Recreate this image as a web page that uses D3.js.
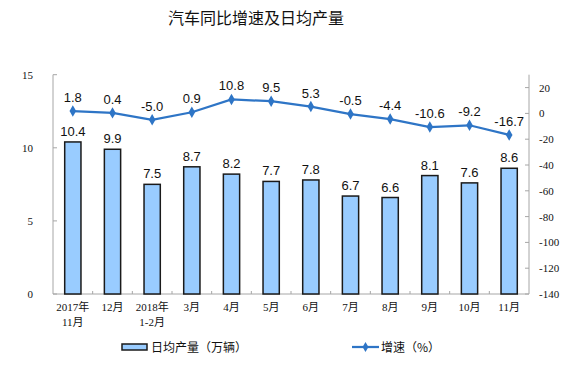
<!DOCTYPE html>
<html><head><meta charset="utf-8">
<script src="https://cdn.jsdelivr.net/npm/d3@7/dist/d3.min.js"></script>
<style>body{margin:0;background:#fff}</style>
</head><body>
<svg id="c" width="575" height="369"></svg>
<script>
const categories = [["2017年","11月"],["12月"],["2018年","1-2月"],["3月"],["4月"],["5月"],["6月"],["7月"],["8月"],["9月"],["10月"],["11月"]];
const output = [10.4, 9.9, 7.5, 8.7, 8.2, 7.7, 7.8, 6.7, 6.6, 8.1, 7.6, 8.6];
const growth = [1.8, 0.4, -5.0, 0.9, 10.8, 9.5, 5.3, -0.5, -4.4, -10.6, -9.2, -16.7];
const leftTicks = [0, 5, 10, 15];
const rightTicks = [20, 0, -20, -40, -60, -80, -100, -120, -140];

const svg = d3.select("#c");
const L = 53, R = 529, T = 74.7, B = 294;
const x = d3.scaleBand().domain(d3.range(categories.length)).range([L, R]).paddingInner(0.59).paddingOuter(0.295);
const xb = d3.scaleBand().domain(d3.range(categories.length)).range([L, R]);
const yL = d3.scaleLinear().domain([0, 15]).range([B, T]);
const yR = d3.scaleLinear().domain([-140, 30]).range([B, T]);
const serif = "'Liberation Serif','Times New Roman',serif";
const sans = "'Liberation Sans',Arial,sans-serif";
const cjk = "'Liberation Serif','Noto Sans CJK SC',serif";

svg.append("text").attr("x", 256).attr("y", 24).attr("text-anchor", "middle")
  .attr("font-family", "'Noto Sans CJK SC',sans-serif").attr("font-size", 16).attr("fill", "#111").text("汽车同比增速及日均产量");

// axes lines
const axCol = "#a6a6a6";
svg.append("line").attr("x1", L).attr("x2", L).attr("y1", T).attr("y2", B).attr("stroke", axCol);
svg.append("line").attr("x1", R).attr("x2", R).attr("y1", T).attr("y2", B).attr("stroke", axCol);
svg.append("line").attr("x1", L).attr("x2", R).attr("y1", B).attr("y2", B).attr("stroke", axCol);

// left ticks
leftTicks.forEach(t => {
  svg.append("line").attr("x1", L).attr("x2", L + 4).attr("y1", yL(t)).attr("y2", yL(t)).attr("stroke", axCol);
  svg.append("text").attr("x", L - 20).attr("y", yL(t) + 4).attr("text-anchor", "end")
    .attr("font-family", serif).attr("font-size", 11).attr("fill", "#111").text(t);
});
rightTicks.forEach(t => {
  svg.append("line").attr("x1", R - 4).attr("x2", R).attr("y1", yR(t)).attr("y2", yR(t)).attr("stroke", axCol);
  svg.append("text").attr("x", R + 10).attr("y", yR(t) + 4).attr("text-anchor", "start")
    .attr("font-family", serif).attr("font-size", 11).attr("fill", "#111").text(t);
});
// band boundary ticks
d3.range(1, categories.length).forEach(i => {
  svg.append("line").attr("x1", xb(i)).attr("x2", xb(i)).attr("y1", B - 3).attr("y2", B).attr("stroke", axCol);
});

// bars
svg.selectAll("rect.bar").data(output).enter().append("rect")
  .attr("x", (d, i) => x(i)).attr("width", x.bandwidth())
  .attr("y", d => yL(d)).attr("height", d => B - yL(d))
  .attr("fill", "#99ccff").attr("stroke", "#1a1a1a").attr("stroke-width", 1.5);
svg.selectAll("text.bl").data(output).enter().append("text")
  .attr("x", (d, i) => x(i) + x.bandwidth() / 2).attr("y", d => yL(d) - 6)
  .attr("text-anchor", "middle").attr("font-family", sans).attr("font-size", 13).attr("fill", "#111")
  .text(d => d.toFixed(1));

// line
const cx = i => xb(i) + xb.bandwidth() / 2;
const blue = "#2e75c6";
svg.append("path").datum(growth)
  .attr("d", d3.line().x((d, i) => cx(i)).y(d => yR(d)))
  .attr("fill", "none").attr("stroke", blue).attr("stroke-width", 2.25);
svg.selectAll("path.m").data(growth).enter().append("path")
  .attr("d", d3.symbol().type(d3.symbolDiamond).size(38))
  .attr("transform", (d, i) => `translate(${cx(i)},${yR(d)})`).attr("fill", blue);
svg.selectAll("text.ll").data(growth).enter().append("text")
  .attr("x", (d, i) => cx(i)).attr("y", d => yR(d) - 9)
  .attr("text-anchor", "middle").attr("font-family", sans).attr("font-size", 13).attr("fill", "#111")
  .text(d => d.toFixed(1));

// category labels
categories.forEach((c, i) => {
  c.forEach((s, j) => {
    svg.append("text").attr("x", cx(i)).attr("y", 311 + j * 15).attr("text-anchor", "middle")
      .attr("font-family", cjk).attr("font-size", 11).attr("fill", "#111").text(s);
  });
});

// legend
svg.append("rect").attr("x", 122).attr("y", 344).attr("width", 25).attr("height", 6)
  .attr("fill", "#99ccff").attr("stroke", "#1a1a1a").attr("stroke-width", 1.5);
svg.append("text").attr("x", 151).attr("y", 352).attr("font-family", "'Noto Sans CJK SC',sans-serif")
  .attr("font-size", 12).attr("fill", "#111").text("日均产量（万辆）");
svg.append("line").attr("x1", 352).attr("x2", 379).attr("y1", 347).attr("y2", 347).attr("stroke", blue).attr("stroke-width", 2.25);
svg.append("path").attr("d", d3.symbol().type(d3.symbolDiamond).size(30)).attr("transform", "translate(365.5,347)").attr("fill", blue);
svg.append("text").attr("x", 381).attr("y", 352).attr("font-family", "'Noto Sans CJK SC',sans-serif")
  .attr("font-size", 12).attr("fill", "#111").text("增速（%）");
</script>
</body></html>
